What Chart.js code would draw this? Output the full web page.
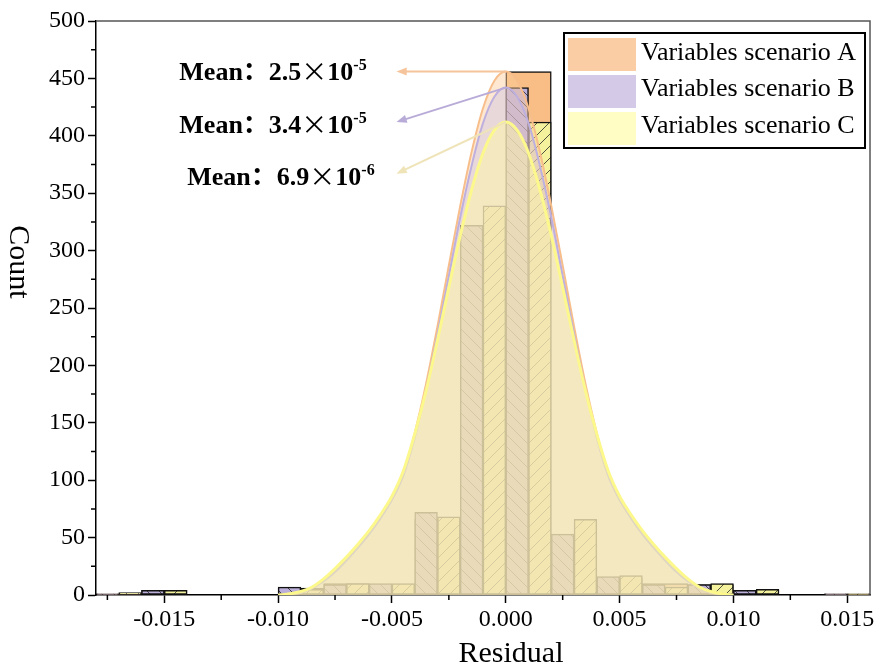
<!DOCTYPE html>
<html>
<head>
<meta charset="utf-8">
<script src="https://cdn.jsdelivr.net/npm/chart.js@4.4.1/dist/chart.umd.min.js"></script>
<style>
  html, body { margin: 0; padding: 0; background: #fff; }
  #wrap { width: 877px; height: 669px; }
</style>
</head>
<body>
<div id="wrap"><canvas id="chart" width="877" height="669"></canvas></div>
<script>
// histogram bins: left edge of each 0.002 wide bin
const binStarts = [-0.018, -0.016, -0.014, -0.012, -0.010, -0.008, -0.006, -0.004, -0.002,
  0.000, 0.002, 0.004, 0.006, 0.008, 0.010, 0.012, 0.014];
const countsA = [1, 4, null, null, 6, 10, 9, 66, 318, 456, 50, 15, 10, 9, 4, null, 1];
const countsB = [1, 4, null, null, 7, 9, 10, 72, 322, 442, 53, 16, 9, 9, 4, null, 1];
const countsC = [2, 4, null, null, 5, 10, 10, 68, 339, 412, 66, 17, 7, 10, 5, null, 1];

// fitted distribution curves
const curveX = [-0.0100, -0.0095, -0.0090, -0.0085, -0.0080, -0.0075, -0.0070, -0.0065, -0.0060, -0.0055,
  -0.0050, -0.0045, -0.0040, -0.0035, -0.0030, -0.0025, -0.0020, -0.0015, -0.0010, -0.0005, 0,
  0.0005, 0.0010, 0.0015, 0.0020, 0.0025, 0.0030, 0.0035, 0.0040, 0.0045, 0.0050,
  0.0055, 0.0060, 0.0065, 0.0070, 0.0075, 0.0080, 0.0085, 0.0090, 0.0095, 0.0100];
const curveA = [0, 1, 2, 6, 13, 21, 31, 42, 54, 68, 84, 106, 141, 184, 234, 287, 339, 386, 424, 448, 456,
  448, 424, 386, 339, 287, 234, 184, 141, 106, 84, 68, 54, 42, 31, 21, 13, 6, 2, 1, 0];
const curveB = [0, 1, 2, 6, 12, 20, 30, 41, 53, 67, 83, 104, 137, 179, 227, 278, 329, 374, 411, 434, 442,
  434, 411, 374, 329, 278, 227, 179, 137, 104, 83, 67, 53, 41, 30, 20, 12, 6, 2, 1, 0];
const curveC = [0, 1, 3, 7, 14, 23, 33, 44, 56, 70, 86, 108, 140, 178, 222, 268, 313, 353, 385, 405, 412,
  405, 385, 353, 313, 268, 222, 178, 140, 108, 86, 70, 56, 44, 33, 23, 14, 7, 3, 1, 0];

const xTicks = [-0.015, -0.010, -0.005, 0, 0.005, 0.010, 0.015];
const xMinorTicks = [-0.0175, -0.0125, -0.0075, -0.0025, 0.0025, 0.0075, 0.0125];
const yTicks = [0, 50, 100, 150, 200, 250, 300, 350, 400, 450, 500];
const yMinorTicks = [25, 75, 125, 175, 225, 275, 325, 375, 425, 475];

const seriesNames = ['Variables scenario A', 'Variables scenario B', 'Variables scenario C'];
const meanValues = ['2.5', '3.4', '6.9'];
const meanExponents = ['-5', '-5', '-6'];
const arrowEndY = [456, 412, 367];

const SERIF = "'Liberation Serif', 'Times New Roman', 'Noto Sans CJK SC', serif";
const CJK = "'Noto Sans CJK SC', 'Liberation Serif', serif";
Chart.defaults.font.family = SERIF;
Chart.defaults.color = '#000';

// labels for the hidden category axes used to place the bars
const binLabels = binStarts.map(s => s.toFixed(3));
const halfLabels = binStarts.flatMap(s => [s.toFixed(4), (s + 0.001).toFixed(4)]);
const halfB = countsB.flatMap(v => [v, null]);
const halfC = countsC.flatMap(v => [null, v]);

function hatch(base, dir) {
  const c = document.createElement('canvas');
  c.width = c.height = 12;
  const g = c.getContext('2d');
  g.fillStyle = base;
  g.fillRect(0, 0, 12, 12);
  g.strokeStyle = 'rgba(40,40,40,0.8)';
  g.lineWidth = 1;
  g.beginPath();
  if (dir > 0) {
    g.moveTo(-3, 15); g.lineTo(15, -3);
    g.moveTo(-3, 3); g.lineTo(3, -3);
    g.moveTo(9, 15); g.lineTo(15, 9);
  } else {
    g.moveTo(-3, -3); g.lineTo(15, 15);
    g.moveTo(-3, 9); g.lineTo(3, 15);
    g.moveTo(9, -3); g.lineTo(15, 3);
  }
  g.stroke();
  return g.createPattern(c, 'repeat');
}

const curvePoints = ys => curveX.map((x, i) => ({ x: x, y: ys[i] }));

const barCommon = {
  type: 'bar',
  yAxisID: 'y',
  borderColor: '#111',
  borderWidth: 1.5,
  borderSkipped: false,
  barPercentage: 1,
  categoryPercentage: 1,
  grouped: false,
};
const lineCommon = {
  type: 'line',
  xAxisID: 'x',
  yAxisID: 'y',
  fill: 'origin',
  pointRadius: 0,
  cubicInterpolationMode: 'monotone',
};

const frame = {
  id: 'frame',
  afterDraw(chart, args, opts) {
    const { ctx, chartArea: a } = chart;
    ctx.save();
    ctx.strokeStyle = '#555';
    ctx.lineWidth = 1.5;
    ctx.beginPath();
    ctx.moveTo(a.left, a.top);
    ctx.lineTo(a.right, a.top);
    ctx.lineTo(a.right, a.bottom);
    ctx.stroke();
    // minor ticks
    ctx.strokeStyle = '#000';
    ctx.lineWidth = 1.5;
    ctx.beginPath();
    xMinorTicks.forEach(v => {
      const px = chart.scales.x.getPixelForValue(v);
      ctx.moveTo(px, a.bottom); ctx.lineTo(px, a.bottom + 5);
    });
    yMinorTicks.forEach(v => {
      const py = chart.scales.y.getPixelForValue(v);
      ctx.moveTo(a.left, py); ctx.lineTo(a.left - 5, py);
    });
    ctx.stroke();
    // axis titles
    ctx.fillStyle = '#000';
    ctx.font = opts.titleSize + 'px ' + SERIF;
    ctx.textAlign = 'center';
    ctx.textBaseline = 'middle';
    ctx.fillText('Residual', opts.xTitle[0], opts.xTitle[1]);
    ctx.translate(opts.yTitle[0], opts.yTitle[1]);
    ctx.rotate(Math.PI / 2);
    ctx.fillText('Count', 0, 0);
    ctx.restore();
  }
};

const means = {
  id: 'means',
  afterDatasetsDraw(chart, args, opts) {
    const { ctx, scales: { x, y } } = chart;
    const peaks = [curveA, curveB, curveC].map(c => Math.max(...c));
    ctx.save();
    peaks.forEach((p, i) => {
      const x0 = x.getPixelForValue(0), y0 = y.getPixelForValue(p);
      const x1 = x.getPixelForValue(opts.arrowEndX), y1 = y.getPixelForValue(arrowEndY[i]);
      const ang = Math.atan2(y1 - y0, x1 - x0);
      const head = 11;
      ctx.strokeStyle = opts.colors[i];
      ctx.fillStyle = opts.colors[i];
      ctx.lineWidth = 2;
      ctx.beginPath();
      ctx.moveTo(x0, y0);
      ctx.lineTo(x1 - Math.cos(ang) * head * 0.8, y1 - Math.sin(ang) * head * 0.8);
      ctx.stroke();
      ctx.beginPath();
      ctx.moveTo(x1, y1);
      ctx.lineTo(x1 - Math.cos(ang - 0.38) * head, y1 - Math.sin(ang - 0.38) * head);
      ctx.lineTo(x1 - Math.cos(ang + 0.38) * head, y1 - Math.sin(ang + 0.38) * head);
      ctx.closePath();
      ctx.fill();

      let tx = x.getPixelForValue(opts.textAt[i][0]);
      const ty = y.getPixelForValue(opts.textAt[i][1]);
      ctx.fillStyle = '#000';
      ctx.textAlign = 'left';
      ctx.textBaseline = 'alphabetic';
      const parts = [
        ['Mean', 'bold 26px ' + SERIF, 0],
        ['：', 'bold 26px ' + CJK, 0],
        [meanValues[i], 'bold 26px ' + SERIF, 0],
        ['×', '26px ' + CJK, 1],
        ['10', 'bold 26px ' + SERIF, 0],
        [meanExponents[i], 'bold 16px ' + SERIF, -10],
      ];
      parts.forEach(([t, f, dy]) => {
        ctx.font = f;
        ctx.fillText(t, tx, ty + dy);
        tx += ctx.measureText(t).width;
      });
    });
    ctx.restore();
  }
};

const legendBox = {
  id: 'legendBox',
  afterDraw(chart, args, opts) {
    const { ctx, chartArea: a } = chart;
    const bx = a.right - 5 - opts.width, by = a.top + 12;
    ctx.save();
    ctx.fillStyle = '#fff';
    ctx.fillRect(bx, by, opts.width, opts.height);
    ctx.strokeStyle = '#000';
    ctx.lineWidth = 2;
    ctx.strokeRect(bx, by, opts.width, opts.height);
    ctx.font = '26px ' + SERIF;
    ctx.textBaseline = 'middle';
    seriesNames.forEach((name, i) => {
      ctx.fillStyle = opts.swatches[i];
      ctx.fillRect(bx + 4, by + 5 + i * 37, 68, 33);
      ctx.fillStyle = '#000';
      ctx.fillText(name, bx + 77, by + 20 + i * 36.5);
    });
    ctx.restore();
  }
};

new Chart(document.getElementById('chart'), {
  type: 'bar',
  data: {
    datasets: [
      Object.assign({}, barCommon, { label: seriesNames[0], data: countsA, xAxisID: 'xA',
        backgroundColor: '#F8BE86', order: 6 }),
      Object.assign({}, barCommon, { label: seriesNames[1], data: halfB, xAxisID: 'xB',
        backgroundColor: hatch('#BBAED8', -1), order: 5 }),
      Object.assign({}, barCommon, { label: seriesNames[2], data: halfC, xAxisID: 'xB',
        backgroundColor: hatch('#F4F29C', 1), order: 4 }),
      Object.assign({}, lineCommon, { label: seriesNames[0], data: curvePoints(curveA),
        borderColor: 'rgba(247,190,140,1)', backgroundColor: 'rgba(252,205,155,0.45)', borderWidth: 2, order: 3 }),
      Object.assign({}, lineCommon, { label: seriesNames[1], data: curvePoints(curveB),
        borderColor: 'rgba(190,176,222,1)', backgroundColor: 'rgba(200,190,232,0.38)', borderWidth: 2, order: 2 }),
      Object.assign({}, lineCommon, { label: seriesNames[2], data: curvePoints(curveC),
        borderColor: 'rgba(252,248,140,1)', backgroundColor: 'rgba(255,250,168,0.5)', borderWidth: 3, order: 1 }),
    ]
  },
  options: {
    responsive: false,
    animation: false,
    layout: { padding: { left: 0, right: 7, top: 21, bottom: 0 } },
    scales: {
      x: {
        type: 'linear',
        position: 'bottom',
        min: -0.018,
        max: 0.016,
        offset: false,
        afterBuildTicks: s => { s.ticks = xTicks.map(v => ({ value: v })); },
        afterFit: s => { s.height = 74; },
        ticks: { font: { size: 24 }, color: '#000', padding: 2, maxRotation: 0, autoSkip: false,
          callback: v => v.toFixed(3) },
        grid: { offset: false, drawOnChartArea: false, drawTicks: true, tickLength: 8, tickColor: '#000', tickWidth: 1.5 },
        border: { display: true, color: '#000', width: 1.5 },
        title: { display: false },
      },
      xA: { type: 'category', labels: binLabels, display: false, offset: true },
      xB: { type: 'category', labels: halfLabels, display: false, offset: true },
      y: {
        type: 'linear',
        min: 0,
        max: 500,
        afterBuildTicks: s => { s.ticks = yTicks.map(v => ({ value: v })); },
        afterFit: s => { s.width = 96; },
        ticks: { font: { size: 24 }, color: '#000', padding: 3 },
        grid: { drawOnChartArea: false, drawTicks: true, tickLength: 8, tickColor: '#000', tickWidth: 1.5 },
        border: { display: true, color: '#000', width: 1.5 },
      },
    },
    plugins: {
      legend: { display: false },
      tooltip: { enabled: false },
      frame: { titleSize: 30, xTitle: [511, 654], yTitle: [18, 262] },
      means: {
        arrowEndX: -0.0048,
        colors: ['#F6C49A', '#B9ABD8', '#EFE3B8'],
        textAt: [[-0.01434, 448.6], [-0.01434, 402.4], [-0.01399, 357.1]],
      },
      legendBox: {
        width: 301,
        height: 115,
        swatches: ['rgb(250,205,165)', 'rgb(212,202,232)', 'rgb(255,252,196)'],
      },
    },
  },
  plugins: [frame, means, legendBox],
});
</script>
</body>
</html>
